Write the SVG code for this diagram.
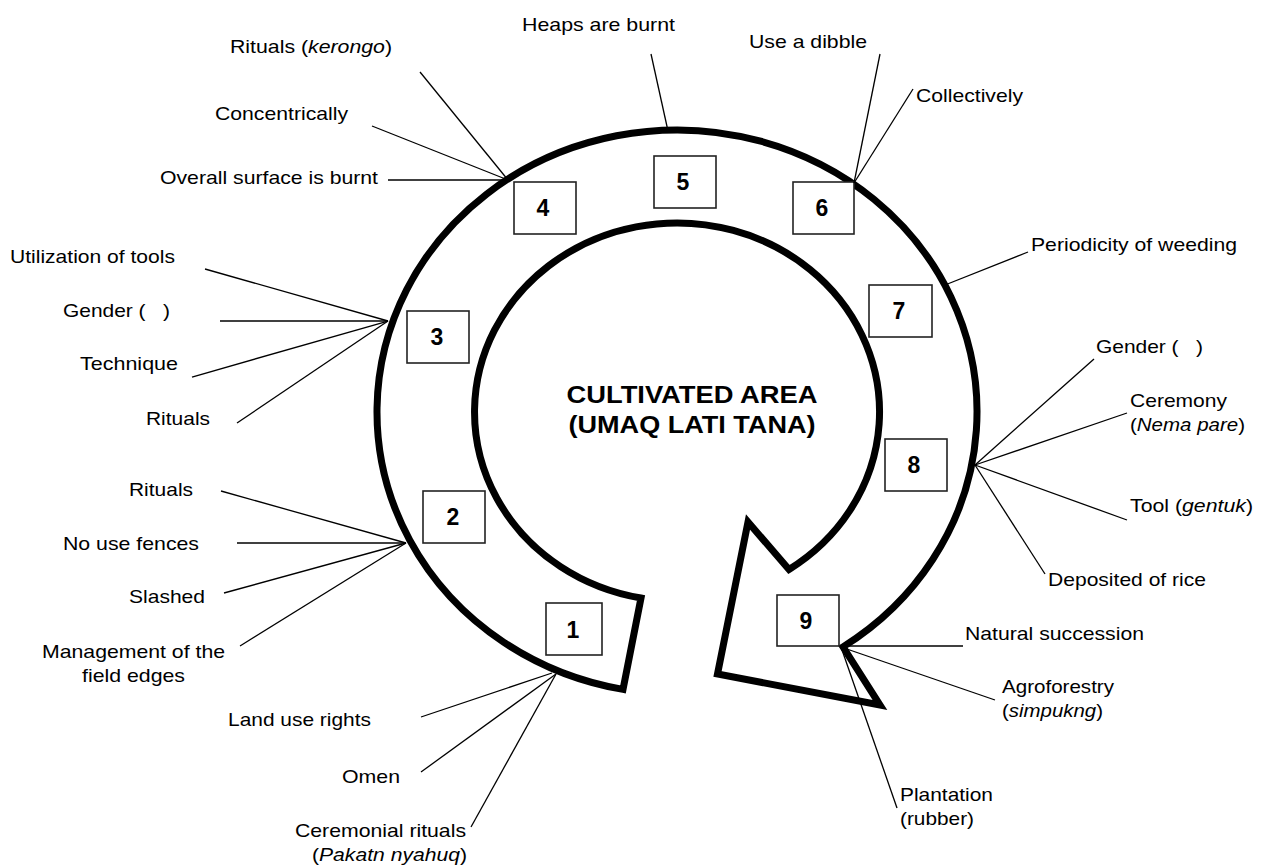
<svg xmlns="http://www.w3.org/2000/svg" width="1261" height="866" viewBox="0 0 1261 866">
<style>
.bg{fill:#fff}
.ring{fill:none;stroke:#000;stroke-width:7;stroke-linejoin:miter}
.box{fill:#fff;stroke:#222;stroke-width:1.6}
.num{font-family:"Liberation Sans",Arial,sans-serif;font-size:23px;font-weight:bold;fill:#000;text-anchor:middle}
.lbl{font-family:"Liberation Sans",Arial,sans-serif;font-size:19px;fill:#000}
.ctr{font-family:"Liberation Sans",Arial,sans-serif;font-size:24px;font-weight:bold;fill:#000;text-anchor:middle}
.it{font-style:italic}
.con line{stroke:#000;stroke-width:1.3}
</style>
<rect class="bg" x="0" y="0" width="1261" height="866"/>

<g id="ring">
<path class="ring" d="M 623 689.4 A 300 282 0 1 1 843 646.9 L 880 705 L 717.5 674 L 748 522 L 789 569.5 A 202.5 189 0 1 0 641 598 Z"/>
</g>

<g id="center">
<text class="ctr" x="692" y="403" textLength="251" lengthAdjust="spacingAndGlyphs">CULTIVATED AREA</text>
<text class="ctr" x="692" y="433" textLength="247" lengthAdjust="spacingAndGlyphs">(UMAQ LATI TANA)</text>
</g>

<g id="box1"><rect class="box" x="546" y="603" width="56" height="52"/><text class="num" x="573" y="638">1</text></g>
<g id="box2"><rect class="box" x="423" y="491" width="62" height="52"/><text class="num" x="453" y="525">2</text></g>
<g id="box3"><rect class="box" x="407" y="311" width="62" height="52"/><text class="num" x="437" y="345">3</text></g>
<g id="box4"><rect class="box" x="514" y="182" width="62" height="52"/><text class="num" x="543" y="216">4</text></g>
<g id="box5"><rect class="box" x="654" y="156" width="62" height="52"/><text class="num" x="683" y="190">5</text></g>
<g id="box6"><rect class="box" x="793" y="182" width="61" height="52"/><text class="num" x="822" y="216">6</text></g>
<g id="box7"><rect class="box" x="869" y="285" width="63" height="52"/><text class="num" x="899" y="319">7</text></g>
<g id="box8"><rect class="box" x="885" y="439" width="62" height="52"/><text class="num" x="914" y="473">8</text></g>
<g id="box9"><rect class="box" x="777" y="595" width="62" height="51"/><text class="num" x="806" y="629">9</text></g>

<g id="connectors" class="con">
<line x1="420" y1="72" x2="508" y2="180"/>
<line x1="372" y1="126" x2="508" y2="180"/>
<line x1="388" y1="180" x2="508" y2="180"/>
<line x1="651" y1="54" x2="668" y2="131"/>
<line x1="880" y1="54" x2="854" y2="183"/>
<line x1="913" y1="89" x2="854" y2="183"/>
<line x1="1028" y1="252" x2="945" y2="285"/>
<line x1="1094" y1="359" x2="975" y2="465"/>
<line x1="1127" y1="413" x2="975" y2="465"/>
<line x1="1127" y1="520" x2="975" y2="465"/>
<line x1="1045" y1="574" x2="975" y2="465"/>
<line x1="841" y1="646" x2="963" y2="646"/>
<line x1="995" y1="700" x2="841" y2="647"/>
<line x1="897" y1="808" x2="841" y2="647"/>
<line x1="205" y1="269" x2="388" y2="321"/>
<line x1="220" y1="321" x2="388" y2="321"/>
<line x1="192" y1="377" x2="388" y2="321"/>
<line x1="237" y1="423" x2="388" y2="321"/>
<line x1="221" y1="491" x2="406" y2="543"/>
<line x1="237" y1="543" x2="406" y2="543"/>
<line x1="224" y1="593" x2="406" y2="543"/>
<line x1="240" y1="646" x2="406" y2="543"/>
<line x1="421" y1="717" x2="552" y2="673"/>
<line x1="421" y1="772" x2="556" y2="674"/>
<line x1="471" y1="827" x2="556" y2="674"/>
</g>

<g id="label-rituals-kerongo"><text class="lbl" x="230" y="53" textLength="162" lengthAdjust="spacingAndGlyphs">Rituals (<tspan class="it">kerongo</tspan>)</text></g>
<g id="label-concentrically"><text class="lbl" x="215" y="120" textLength="133" lengthAdjust="spacingAndGlyphs">Concentrically</text></g>
<g id="label-overall"><text class="lbl" x="160" y="184" textLength="218" lengthAdjust="spacingAndGlyphs">Overall surface is burnt</text></g>
<g id="label-heaps"><text class="lbl" x="522" y="31" textLength="153" lengthAdjust="spacingAndGlyphs">Heaps are burnt</text></g>
<g id="label-dibble"><text class="lbl" x="749" y="48" textLength="118" lengthAdjust="spacingAndGlyphs">Use a dibble</text></g>
<g id="label-collectively"><text class="lbl" x="916" y="102" textLength="107" lengthAdjust="spacingAndGlyphs">Collectively</text></g>
<g id="label-periodicity"><text class="lbl" x="1031" y="251" textLength="206" lengthAdjust="spacingAndGlyphs">Periodicity of weeding</text></g>
<g id="label-gender-right"><text class="lbl" x="1096" y="353" textLength="107" lengthAdjust="spacingAndGlyphs">Gender (&#160;&#160;&#160;)</text></g>
<g id="label-ceremony">
<text class="lbl" x="1130" y="407" textLength="97" lengthAdjust="spacingAndGlyphs">Ceremony</text>
<text class="lbl" x="1130" y="431" textLength="115" lengthAdjust="spacingAndGlyphs">(<tspan class="it">Nema pare</tspan>)</text>
</g>
<g id="label-tool"><text class="lbl" x="1130" y="512" textLength="123" lengthAdjust="spacingAndGlyphs">Tool (<tspan class="it">gentuk</tspan>)</text></g>
<g id="label-deposited"><text class="lbl" x="1048" y="586" textLength="158" lengthAdjust="spacingAndGlyphs">Deposited of rice</text></g>
<g id="label-natural"><text class="lbl" x="965" y="640" textLength="179" lengthAdjust="spacingAndGlyphs">Natural succession</text></g>
<g id="label-agroforestry">
<text class="lbl" x="1002" y="693" textLength="112" lengthAdjust="spacingAndGlyphs">Agroforestry</text>
<text class="lbl" x="1002" y="717" textLength="101" lengthAdjust="spacingAndGlyphs">(<tspan class="it">simpukng</tspan>)</text>
</g>
<g id="label-plantation">
<text class="lbl" x="900" y="801" textLength="93" lengthAdjust="spacingAndGlyphs">Plantation</text>
<text class="lbl" x="900" y="825" textLength="74" lengthAdjust="spacingAndGlyphs">(rubber)</text>
</g>
<g id="label-ceremonial">
<text class="lbl" x="295" y="837" textLength="171" lengthAdjust="spacingAndGlyphs">Ceremonial rituals</text>
<text class="lbl" x="312" y="861" textLength="155" lengthAdjust="spacingAndGlyphs">(<tspan class="it">Pakatn nyahuq</tspan>)</text>
</g>
<g id="label-omen"><text class="lbl" x="342" y="783" textLength="58" lengthAdjust="spacingAndGlyphs">Omen</text></g>
<g id="label-land"><text class="lbl" x="228" y="726" textLength="143" lengthAdjust="spacingAndGlyphs">Land use rights</text></g>
<g id="label-management">
<text class="lbl" x="42" y="658" textLength="183" lengthAdjust="spacingAndGlyphs">Management of the</text>
<text class="lbl" x="82" y="682" textLength="103" lengthAdjust="spacingAndGlyphs">field edges</text>
</g>
<g id="label-slashed"><text class="lbl" x="129" y="603" textLength="76" lengthAdjust="spacingAndGlyphs">Slashed</text></g>
<g id="label-fences"><text class="lbl" x="63" y="550" textLength="136" lengthAdjust="spacingAndGlyphs">No use fences</text></g>
<g id="label-rituals-2"><text class="lbl" x="129" y="496" textLength="64" lengthAdjust="spacingAndGlyphs">Rituals</text></g>
<g id="label-rituals-3"><text class="lbl" x="146" y="425" textLength="64" lengthAdjust="spacingAndGlyphs">Rituals</text></g>
<g id="label-technique"><text class="lbl" x="80" y="370" textLength="98" lengthAdjust="spacingAndGlyphs">Technique</text></g>
<g id="label-gender-left"><text class="lbl" x="63" y="317" textLength="107" lengthAdjust="spacingAndGlyphs">Gender (&#160;&#160;&#160;)</text></g>
<g id="label-utilization"><text class="lbl" x="10" y="263" textLength="165" lengthAdjust="spacingAndGlyphs">Utilization of tools</text></g>
</svg>
